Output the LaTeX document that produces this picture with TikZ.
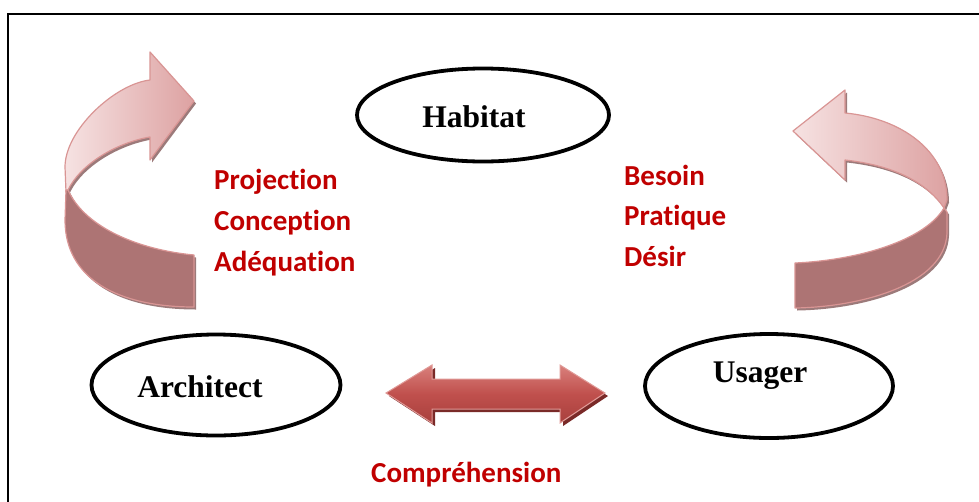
\documentclass[tikz,border=0pt]{standalone}
\usepackage{fontspec}
\setmainfont{Liberation Serif}
\newfontfamily\calibri[Ligatures=NoCommon]{Carlito}
\usetikzlibrary{shapes.geometric}
\definecolor{redtxt}{HTML}{C00000}
\definecolor{ribbonlight}{HTML}{F6E2E2}
\definecolor{ribbonmid}{HTML}{DDA2A2}
\definecolor{ribbondark}{HTML}{AD7474}
\definecolor{ribbonedge}{HTML}{D99594}
\definecolor{ribbonshadow}{HTML}{9C7A7A}
\definecolor{dblfill}{HTML}{C0504D}
\definecolor{dbltop}{HTML}{D9807C}
\definecolor{dblbot}{HTML}{A8403D}
\definecolor{dbledge}{HTML}{E09A97}
\definecolor{dblshadow}{HTML}{7A2A28}
\tikzset{
  ell/.style={ellipse, draw=black, line width=3.8pt, inner sep=0pt},
  blacktxt/.style={font=\fontsize{31.5}{31.5}\selectfont\bfseries, text=black, inner sep=0pt, anchor=base},
  redlabel/.style={font=\calibri\fontsize{29}{29}\selectfont\bfseries, text=redtxt, inner sep=0pt, anchor=base west},
  upperpart/.style={left color=ribbonlight, right color=ribbonmid, draw=ribbonedge, line width=1.2pt, line join=round},
  lowerpart/.style={fill=ribbondark, draw=ribbonedge, line width=1.2pt, line join=round},
  shadowpart/.style={fill=ribbonshadow, draw=none},
  dblarrow/.style={top color=dbltop, bottom color=dblbot, middle color=dblfill, draw=dbledge, line width=1pt, line join=miter},
  dblshadowst/.style={fill=dblshadow, draw=none},
}
\begin{document}
\begin{tikzpicture}[x=1pt,y=-1pt]
\useasboundingbox (0,0) rectangle (979,501);
\clip (0,0) rectangle (979,501);
% frame
\draw[line width=2.5pt] (8,530) -- (8,14) -- (1000,14);

% ellipses
\node[ell, minimum width=252pt, minimum height=93pt] (hab) at (483,115) {};
\node[ell, minimum width=249pt, minimum height=101pt] (arch) at (216,385) {};
\node[ell, minimum width=248pt, minimum height=104pt] (usa) at (769,386) {};
\node[blacktxt] (habt) at (474,127) {Habitat};
\node[blacktxt] (archt) at (200,397) {Architect};
\node[blacktxt] (usat) at (760,382) {Usager};

% left curved arrow
\begin{scope}[shift={(2,2.5)}]
\fill[shadowpart] (66,192) -- (65,167) .. controls (65,130) and (115,84) .. (150,80) -- (150,52) -- (194,101) -- (150,160) -- (150,137) .. controls (115,143) and (80,165) .. (68,190) -- cycle;
\fill[shadowpart] (66,190) -- (65,220) .. controls (65,280) and (120,307) .. (194,307) -- (194,255) .. controls (140,250) and (85,228) .. (68,190) -- cycle;
\end{scope}
\path[upperpart] (66,192) -- (65,167) .. controls (65,130) and (115,84) .. (150,80) -- (150,52) -- (194,101) -- (150,160) -- (150,137) .. controls (115,143) and (80,165) .. (68,190) -- cycle;
\path[lowerpart] (66,190) -- (65,220) .. controls (65,280) and (120,307) .. (194,307) -- (194,255) .. controls (140,250) and (85,228) .. (68,190) -- cycle;

% right curved arrow
\begin{scope}[shift={(2,2.5)}]
\fill[shadowpart] (845,113) -- (845,90) -- (793,131) -- (845,180) -- (845,160) .. controls (890,165) and (925,180) .. (944,208) -- (947,200) .. controls (947,150) and (900,118) .. (845,113) -- cycle;
\fill[shadowpart] (944,208) -- (947,212) -- (947,233) .. controls (945,285) and (860,307) .. (795,308) -- (795,263) .. controls (860,260) and (925,240) .. (944,208) -- cycle;
\end{scope}
\path[upperpart] (845,113) -- (845,90) -- (793,131) -- (845,180) -- (845,160) .. controls (890,165) and (925,180) .. (944,208) -- (947,200) .. controls (947,150) and (900,118) .. (845,113) -- cycle;
\path[lowerpart] (944,208) -- (947,212) -- (947,233) .. controls (945,285) and (860,307) .. (795,308) -- (795,263) .. controls (860,260) and (925,240) .. (944,208) -- cycle;

% double arrow
\fill[dblshadowst] (389,396) -- (435,368) -- (435,382) -- (563,382) -- (563,368) -- (608,396) -- (563,426) -- (563,412) -- (435,412) -- (435,426) -- cycle;
\path[dblarrow] (386,393) -- (432,365) -- (432,379) -- (560,379) -- (560,365) -- (605,393) -- (560,423) -- (560,409) -- (432,409) -- (432,423) -- cycle;

% red labels
\node[redlabel] (l1) at (214,189) {Projection};
\node[redlabel] (l2) at (214,230) {Conception};
\node[redlabel] (l3) at (214,271) {Adéquation};
\node[redlabel] (r1) at (624,185) {Besoin};
\node[redlabel] (r2) at (624,225) {Pratique};
\node[redlabel] (r3) at (624,266) {Désir};
\node[redlabel] (comp) at (371,482) {Compréhension};
\end{tikzpicture}
\end{document}
